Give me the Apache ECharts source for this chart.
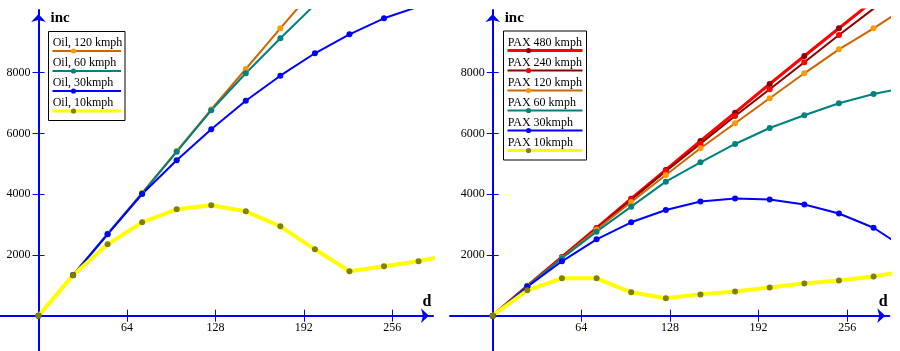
<!DOCTYPE html>
<html>
<head>
<meta charset="utf-8">
<script src="https://cdn.jsdelivr.net/npm/echarts@6/dist/echarts.min.js"></script>
<style>
html, body { margin: 0; padding: 0; background: #fff; }
#main { width: 900px; height: 351px; }
</style>
</head>
<body>
<div id="main"></div>
<script>

// d values (every 25)
var dist = [0, 25, 50, 75, 100, 125, 150, 175, 200, 225, 250, 275, 300];

// left chart - Oil
var oilNames = ['Oil, 120 kmph', 'Oil, 60 kmph', 'Oil, 30kmph', 'Oil, 10kmph'];
var oil120 = [0, 1345, 2700, 4040, 5420, 6790, 8122, 9462, 10780];
var oil60  = [0, 1340, 2690, 4025, 5395, 6762, 7980, 9133, 10240];
var oil30  = [0, 1329, 2680, 4006, 5116, 6136, 7078, 7901, 8639, 9264, 9791, 10176];
var oil10  = [0, 1329, 2350, 3074, 3502, 3634, 3437, 2943, 2186, 1462, 1626, 1791, 2030];

// right chart - PAX
var paxNames = ['PAX 480 kmph', 'PAX 240 kmph', 'PAX 120 kmph', 'PAX 60 kmph', 'PAX 30kmph', 'PAX 10kmph'];
var pax480 = [0, 985, 1935, 2890, 3850, 4800, 5751, 6683, 7628, 8550, 9462, 10374, 11280];
var pax240 = [0, 980, 1920, 2870, 3820, 4760, 5660, 6574, 7453, 8342, 9241, 10110, 10960];
var pax120 = [0, 975, 1905, 2840, 3743, 4632, 5511, 6334, 7157, 7980, 8770, 9462, 10200];
var pax60  = [0, 970, 1890, 2766, 3589, 4412, 5050, 5653, 6179, 6597, 6992, 7299, 7530];
var pax30  = [0, 955, 1791, 2515, 3075, 3480, 3761, 3860, 3827, 3662, 3366, 2895, 2150];
var pax10  = [0, 836, 1231, 1231, 770, 573, 702, 800, 932, 1064, 1162, 1294, 1470];

// tick labels
var dTicks = [64, 128, 192, 256];
var incTicks = [2000, 4000, 6000, 8000];


var FONT = 'Liberation Serif';
var BLUE = '#0000ff';

// styles: [line color, dot color, line width]
var oilStyles = [
	['#cc6600', '#ff9900', 2],
	['#008080', '#008080', 2],
	['#0000ff', '#0000ff', 2],
	['#ffff00', '#808000', 4]
];
var paxStyles = [
	['#ff0000', '#8b0000', 3],
	['#8b0000', '#ff0000', 2],
	['#cc6600', '#ff9900', 2],
	['#008080', '#008080', 2],
	['#0000ff', '#0000ff', 2],
	['#ffff00', '#808000', 4]
];

function toPairs(vals) {
	return vals.map(function(v, i) { return [dist[i], v]; });
}

// x axis (moved up to the zero line by offset), "inner" one draws the upper half of the ticks
function xAxis(gi, min, max, off, inner) {
	return {
		type: 'value', gridIndex: gi, min: min, max: max, position: 'bottom', offset: off,
		name: inner ? '' : 'd',
		nameLocation: 'end', nameGap: -6, nameMoveOverlap: false,
		nameTextStyle: { fontFamily: FONT, fontWeight: 'bold', fontSize: 16, color: '#000',
			align: 'center', verticalAlign: 'bottom', padding: [0, 0, 6, 0] },
		axisLine: { show: !inner, onZero: false,
			symbol: ['none', 'arrow'], symbolSize: [11, 8], symbolOffset: [0, -4],
			lineStyle: { color: BLUE, width: 2 } },
		axisTick: { show: true, inside: inner, length: 6, customValues: dTicks,
			lineStyle: { color: BLUE, width: 1 } },
		axisLabel: { show: !inner, customValues: dTicks, margin: 6,
			fontFamily: FONT, fontSize: 12, color: '#000',
			formatter: function(v) { return String(v); } },
		splitLine: { show: false }
	};
}

function yAxis(gi, off, inner) {
	return {
		type: 'value', gridIndex: gi, min: -1162, max: 10064, position: 'left', offset: off,
		name: inner ? '' : 'inc',
		nameLocation: 'end', nameGap: -8.5, nameMoveOverlap: false,
		nameTextStyle: { fontFamily: FONT, fontWeight: 'bold', fontSize: 15, color: '#000',
			align: 'left', verticalAlign: 'middle', padding: [0, 0, 0, 12] },
		axisLine: { show: !inner, onZero: false,
			symbol: ['none', 'arrow'], symbolSize: [11, 8], symbolOffset: [0, -4],
			lineStyle: { color: BLUE, width: 2 } },
		axisTick: { show: true, inside: inner, length: 6, customValues: incTicks,
			lineStyle: { color: BLUE, width: 1 } },
		axisLabel: { show: !inner, customValues: incTicks, margin: 8,
			fontFamily: FONT, fontSize: 12, color: '#000',
			formatter: function(v) { return String(v); } },
		splitLine: { show: false }
	};
}

function makeSeries(names, valsList, styles, gi) {
	return names.map(function(n, i) {
		return {
			name: n, type: 'line', xAxisIndex: gi * 2, yAxisIndex: gi * 2,
			data: toPairs(valsList[i]),
			symbol: 'circle', symbolSize: 6, showSymbol: true,
			lineStyle: { color: styles[i][0], width: styles[i][2] },
			itemStyle: { color: styles[i][1] },
			clip: true, silent: true
		};
	});
}

// legend box: text above a line with a dot
function legendBox(x0, y0, w, names, styles) {
	var els = [];
	els.push({
		type: 'rect', z: 100,
		shape: { x: x0, y: y0, width: w, height: names.length * 20 + 9 },
		style: { fill: '#fff', stroke: '#000', lineWidth: 1 }
	});
	names.forEach(function(n, i) {
		var ty = y0 + 11.5 + 20 * i;
		var ly = y0 + 19.5 + 20 * i;
		els.push({
			type: 'text', z: 101, x: x0 + 4.2, y: ty,
			style: { text: n, fill: '#000', font: '12px "' + FONT + '"', verticalAlign: 'middle' }
		});
		els.push({
			type: 'line', z: 101,
			shape: { x1: x0 + 4, y1: ly, x2: x0 + w - 4, y2: ly },
			style: { stroke: styles[i][0], lineWidth: Math.min(styles[i][2], 3) }
		});
		els.push({
			type: 'circle', z: 102,
			shape: { cx: x0 + 25, cy: ly, r: 2.6 },
			style: { fill: styles[i][1] }
		});
	});
	return els;
}


var myChart = echarts.init(document.getElementById('main'), null, { renderer: 'canvas' });

var option = {
	animation: false,
	backgroundColor: '#fff',
	grid: [
		{ left: 0, top: 10, width: 433, bottom: 0, containLabel: false, outerBoundsMode: 'none' },
		{ left: 450, top: 10, width: 439.3, bottom: 0, containLabel: false, outerBoundsMode: 'none' }
	],
	xAxis: [
		xAxis(0, -27.86, 285.46, -35.3, false),
		xAxis(0, -27.86, 285.46, -35.3, true),
		xAxis(1, -30.83, 286.35, -35.3, false),
		xAxis(1, -30.83, 286.35, -35.3, true)
	],
	yAxis: [
		yAxis(0, -38.5, false),
		yAxis(0, -38.5, true),
		yAxis(1, -42.7, false),
		yAxis(1, -42.7, true)
	],
	series: makeSeries(oilNames, [oil120, oil60, oil30, oil10], oilStyles, 0)
		.concat(makeSeries(paxNames, [pax480, pax240, pax120, pax60, pax30, pax10], paxStyles, 1)),
	graphic: legendBox(48.5, 31.5, 76.5, oilNames, oilStyles)
		.concat(legendBox(503.5, 31, 83, paxNames, paxStyles))
};

myChart.setOption(option);

</script>
</body>
</html>
